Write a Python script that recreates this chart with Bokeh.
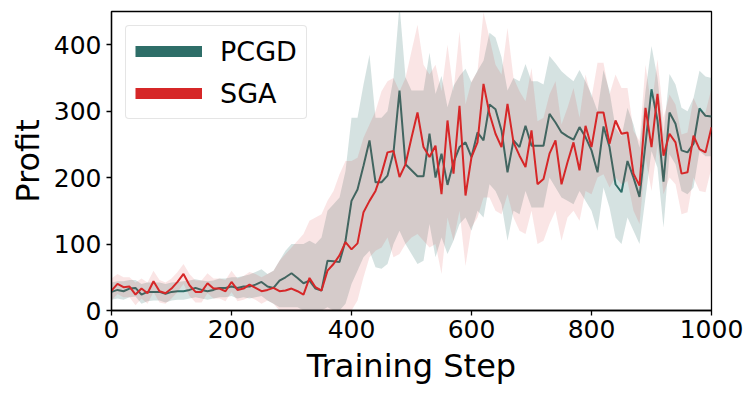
import numpy as np
from bokeh.plotting import figure
from bokeh.models import Range1d, Legend, LegendItem, FixedTicker, ColumnDataSource
from bokeh.embed import file_html
from bokeh.resources import INLINE

steps = list(range(0, 1001, 10))

pcgd_mean = [28, 31, 29, 33, 34, 24, 28, 28, 28, 25, 28, 29, 29, 31, 34, 31, 29, 31, 34, 34, 36, 34, 36, 36, 39, 43,
             36, 34, 45, 50, 56, 49, 41, 45, 33, 30, 75, 74, 73, 105, 165,
             182, 218, 256, 193, 193, 203, 238, 331, 220, 211, 202, 202, 266, 200, 236, 189, 223, 246, 253, 231,
             268, 256, 310, 303, 271, 208, 256, 246, 278, 248, 248, 248, 296, 283, 268, 262, 257, 276, 261, 241,
             208, 277, 246, 190, 178, 225, 200, 171, 251, 333, 286, 194, 298, 281, 241, 238, 251, 304, 293, 292]
pcgd_upper = [42, 44, 44, 46, 46, 40, 42, 42, 42, 40, 42, 43, 44, 45, 47, 45, 44, 45, 48, 48, 50, 50, 52, 54, 58, 62,
              55, 60, 75, 90, 100, 100, 100, 105, 100, 110, 150, 160, 170, 210, 290,
              290, 340, 385, 290, 290, 300, 350, 460, 351, 331, 331, 331, 388, 326, 353, 306, 338, 353, 364, 343,
              361, 376, 418, 411, 381, 331, 350, 345, 371, 345, 345, 340, 383, 372, 360, 352, 345, 362, 345, 325,
              300, 362, 330, 275, 262, 305, 280, 245, 330, 398, 350, 265, 356, 340, 305, 300, 320, 361, 352, 350]
pcgd_lower = [16, 18, 16, 20, 21, 10, 14, 15, 15, 12, 15, 16, 16, 18, 20, 18, 16, 18, 20, 20, 22, 18, 20, 18, 20, 22,
              15, 10, 5, 5, 5, 5, 0, 0, 0, 0, 5, 0, 0, 10, 40,
              60, 80, 90, 65, 63, 70, 100, 120, 100, 85, 70, 75, 130, 80, 110, 85, 105, 130, 140, 120,
              150, 140, 190, 180, 160, 105, 150, 145, 180, 155, 155, 155, 200, 185, 170, 165, 160, 180, 165, 150,
              120, 185, 155, 110, 100, 140, 120, 100, 170, 240, 215, 125, 235, 220, 180, 175, 185, 240, 232, 232]

sga_mean = [30, 40, 35, 36, 24, 33, 26, 44, 29, 26, 33,
            43, 55, 38, 28, 28, 41, 33, 33, 29, 43,
            31, 33, 39, 34, 29, 31, 34, 29, 30, 33,
            29, 24, 49, 35, 30, 60, 70, 83, 103, 92,
            101, 148, 165, 180, 206, 238, 240, 201, 220, 260,
            298, 246, 231, 248, 175, 286, 206, 308, 173, 231,
            253, 341, 296, 266, 246, 311, 253, 233, 216, 271,
            190, 198, 236, 256, 190, 223, 253, 211, 278, 246,
            298, 298, 251, 286, 266, 268, 206, 188, 305, 246,
            326, 233, 266, 253, 206, 208, 263, 243, 238, 276]
sga_upper = [48, 55, 50, 50, 42, 48, 42, 60, 46, 42, 48,
             58, 70, 55, 45, 45, 56, 48, 48, 46, 60,
             48, 52, 58, 55, 50, 55, 60, 75, 85, 95,
             105, 115, 135, 140, 145, 165, 180, 205, 225, 225,
             230, 260, 280, 300, 330, 345, 350, 330, 350, 390,
             430, 370, 355, 370, 330, 400, 330, 420, 310, 345,
             360, 449, 410, 370, 355, 425, 350, 330, 315, 365,
             285, 290, 325, 345, 280, 305, 335, 290, 355, 320,
             373, 373, 325, 355, 335, 335, 270, 255, 370, 305,
             378, 290, 325, 310, 265, 268, 320, 300, 298, 335]
sga_lower = [15, 25, 20, 20, 8, 18, 10, 28, 12, 10, 18,
             28, 40, 22, 12, 12, 26, 18, 18, 14, 28,
             14, 16, 20, 16, 10, 15, 10, 0, 0, 0,
             0, 0, 0, 0, 0, 0, 0, 0, 0, 0,
             15, 50, 80, 90, 95, 110, 80, 85, 100, 110,
             115, 105, 95, 100, 55, 140, 105, 150, 67, 125,
             140, 170, 170, 150, 145, 175, 140, 120, 115, 150,
             100, 105, 130, 150, 105, 140, 150, 135, 180, 175,
             200, 205, 185, 200, 190, 195, 150, 130, 230, 180,
             250, 175, 200, 190, 145, 148, 200, 180, 178, 215]

x_ticks = [0, 200, 400, 600, 800, 1000]
y_ticks = [0, 100, 200, 300, 400]

TEAL = "#2e6e68"
RED = "#d62728"
FONT = "DejaVu Sans"

p = figure(output_backend="svg", toolbar_location=None,
           x_range=Range1d(0, 1000), y_range=Range1d(0, 450))
p.frame_width = 600
p.frame_height = 299
p.min_border_left = 111
p.min_border_right = 37
p.min_border_top = 11
p.min_border_bottom = 76
p.background_fill_color = "white"
p.border_fill_color = "white"
p.outline_line_color = "black"
p.outline_line_width = 1.3
p.outline_line_alpha = 1.0
p.grid.visible = False

src = ColumnDataSource(dict(x=steps, pm=pcgd_mean, pu=pcgd_upper, pl=pcgd_lower,
                            sm=sga_mean, su=sga_upper, sl=sga_lower))

p.varea(x="x", y1="pl", y2="pu", source=src, fill_color=TEAL, fill_alpha=0.2)
p.line(x="x", y="pm", source=src, line_color=TEAL, line_width=2)
p.varea(x="x", y1="sl", y2="su", source=src, fill_color=RED, fill_alpha=0.12)
p.line(x="x", y="sm", source=src, line_color=RED, line_width=2)

# legend proxies (thick bars as in reference)
r1 = p.line(x=[np.nan], y=[np.nan], line_color=TEAL, line_width=11)
r2 = p.line(x=[np.nan], y=[np.nan], line_color=RED, line_width=11)
legend = Legend(items=[LegendItem(label="PCGD", renderers=[r1]),
                       LegendItem(label="SGA", renderers=[r2])],
                location="top_left")
legend.margin = 14
legend.padding = 9
legend.spacing = 10
legend.glyph_width = 67
legend.glyph_height = 32
legend.label_height = 32
legend.label_standoff = 18
legend.label_text_font = FONT
legend.label_text_font_size = "27px"
legend.label_text_color = "black"
legend.border_line_color = "#cccccc"
legend.border_line_width = 1
legend.background_fill_alpha = 0.8
legend.border_radius = 4
p.add_layout(legend, "center")

for ax in (p.xaxis[0], p.yaxis[0]):
    ax.axis_line_color = "black"
    ax.axis_line_width = 1.3
    ax.major_tick_line_color = "black"
    ax.major_tick_line_width = 1.3
    ax.major_tick_out = 5
    ax.major_tick_in = 0
    ax.minor_tick_line_color = None
    ax.major_label_text_font = FONT
    ax.major_label_text_font_size = "25px"
    ax.major_label_text_color = "black"
    ax.axis_label_text_font = FONT
    ax.axis_label_text_font_size = "32px"
    ax.axis_label_text_font_style = "normal"
    ax.axis_label_text_color = "black"

p.xaxis.ticker = FixedTicker(ticks=x_ticks)
p.yaxis.ticker = FixedTicker(ticks=y_ticks)
p.xaxis.axis_label = "Training Step"
p.yaxis.axis_label = "Profit"
p.xaxis.major_label_standoff = 4
p.yaxis.major_label_standoff = 5
p.xaxis.axis_label_standoff = 6
p.yaxis.axis_label_standoff = 4

open("out.html", "w").write(file_html(p, INLINE))
